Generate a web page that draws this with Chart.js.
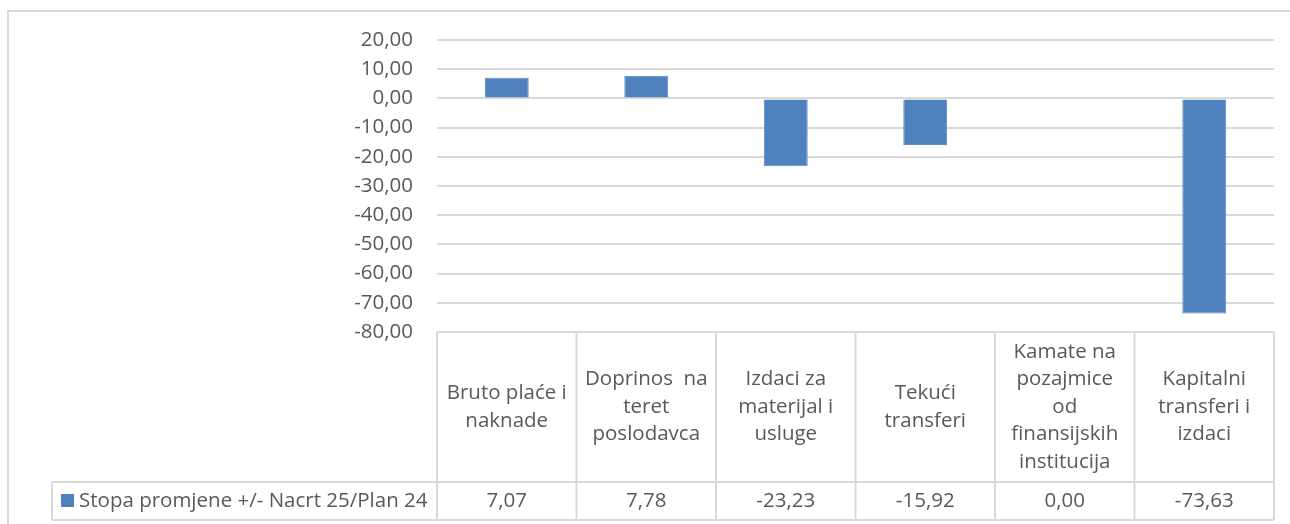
<!DOCTYPE html>
<html>
<head>
<meta charset="utf-8">
<script src="https://cdn.jsdelivr.net/npm/chart.js@4/dist/chart.umd.min.js"></script>
<style>
  html, body { margin: 0; padding: 0; background: #fff; }
  #wrap { width: 1290px; height: 524px; }
</style>
</head>
<body>
<div id="wrap"><canvas id="chart" width="1290" height="524"></canvas></div>
<script>
// data
const categories = [
  ['Bruto plaće i', 'naknade'],
  ['Doprinos  na', 'teret', 'poslodavca'],
  ['Izdaci za', 'materijal i', 'usluge'],
  ['Tekući', 'transferi'],
  ['Kamate na', 'pozajmice', 'od', 'finansijskih', 'institucija'],
  ['Kapitalni', 'transferi i', 'izdaci']
];
const seriesName = 'Stopa promjene +/- Nacrt 25/Plan 24';
const values = [7.07, 7.78, -23.23, -15.92, 0.00, -73.63];
const yMin = -80;
const yMax = 20;
const yStep = 10;

const FONT = '"Open Sans"';
const TEXT = '#595959';
const GRID = '#d9d9d9';
const BAR = '#4f81bd';

const fmt = v => v.toFixed(2).replace('.', ',');

// draws the outer frame and the data table under the plot
const dataTable = {
  id: 'dataTable',
  beforeDraw(chart) {
    const ctx = chart.ctx;
    ctx.save();
    ctx.strokeStyle = GRID;
    ctx.lineWidth = 2;
    ctx.beginPath();
    ctx.moveTo(8, 524);
    ctx.lineTo(8, 11);
    ctx.lineTo(1290, 11);
    ctx.stroke();
    ctx.restore();
  },
  afterDraw(chart) {
    const ctx = chart.ctx;
    const area = chart.chartArea;
    const x = chart.scales.x;
    const top = area.bottom;
    const rowTop = 482;
    const rowBottom = 520;
    const legendLeft = 52;
    const colW = (area.right - area.left) / categories.length;

    ctx.save();
    ctx.strokeStyle = GRID;
    ctx.lineWidth = 2;
    ctx.beginPath();
    for (let i = 0; i <= categories.length; i++) {
      const cx = area.left + i * colW;
      ctx.moveTo(cx, top);
      ctx.lineTo(cx, rowBottom);
    }
    ctx.moveTo(legendLeft, rowTop);
    ctx.lineTo(area.right, rowTop);
    ctx.moveTo(legendLeft, rowBottom);
    ctx.lineTo(area.right, rowBottom);
    ctx.moveTo(legendLeft, rowTop);
    ctx.lineTo(legendLeft, rowBottom);
    ctx.stroke();

    ctx.fillStyle = TEXT;
    ctx.font = '20.5px ' + FONT;
    ctx.textAlign = 'center';
    ctx.textBaseline = 'middle';
    const lineH = 27.5;
    const midCat = (top + rowTop) / 2;
    categories.forEach((lines, i) => {
      const cx = x.getPixelForValue(i);
      const y0 = midCat - (lines.length - 1) * lineH / 2;
      lines.forEach((t, j) => ctx.fillText(t, cx, y0 + j * lineH));
      ctx.fillText(fmt(values[i]), cx, (rowTop + rowBottom) / 2);
    });

    // legend key in the row header
    ctx.fillStyle = BAR;
    ctx.fillRect(61, 494, 13, 13);
    ctx.fillStyle = TEXT;
    ctx.textAlign = 'left';
    ctx.fillText(seriesName, 79, (rowTop + rowBottom) / 2);
    ctx.restore();
  }
};

new Chart(document.getElementById('chart'), {
  type: 'bar',
  data: {
    labels: categories.map(l => l.join(' ')),
    datasets: [{
      label: seriesName,
      data: values,
      backgroundColor: BAR,
      borderColor: '#5a8ac4',
      borderWidth: 1,
      categoryPercentage: 1,
      barPercentage: 0.315
    }]
  },
  options: {
    responsive: false,
    animation: false,
    layout: { padding: { left: 0, top: 40, right: 16, bottom: 192 } },
    plugins: {
      legend: { display: false },
      tooltip: { enabled: false }
    },
    scales: {
      x: { display: false },
      y: {
        min: yMin,
        max: yMax,
        afterFit(scale) { scale.width = 437; },
        border: { display: false },
        grid: { color: GRID, lineWidth: 2, drawTicks: false },
        ticks: {
          stepSize: yStep,
          padding: 24,
          color: TEXT,
          font: { family: FONT, size: 20.5 },
          callback: v => fmt(v)
        }
      }
    }
  },
  plugins: [dataTable]
});
</script>
</body>
</html>
